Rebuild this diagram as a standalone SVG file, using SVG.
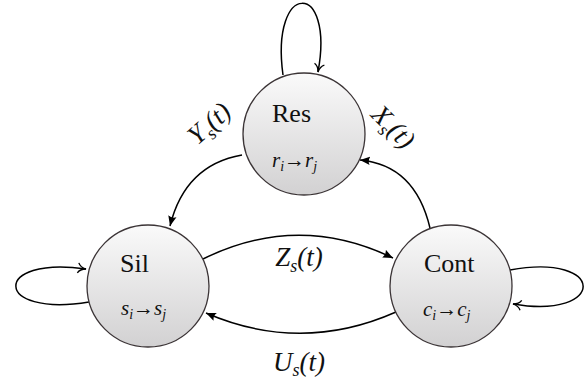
<svg xmlns="http://www.w3.org/2000/svg" width="584" height="383" viewBox="0 0 584 383" font-family="Liberation Serif, DejaVu Serif, serif">
<style>
.node{stroke:#3b3436;stroke-width:1.3;fill:url(#g)}
text{fill:#111}
.name{font-size:26px}
.math{font-style:italic;font-size:21px}
.lab{font-style:italic;font-size:27px}
.e{fill:none;stroke:#000;stroke-width:1.5}
.f{marker-end:url(#fa)}
.o{marker-end:url(#oa)}
</style>
<defs>
<linearGradient id="g" x1="0" y1="0" x2="0" y2="1">
<stop offset="0" stop-color="#fafafa"/>
<stop offset="1" stop-color="#d2d1d2"/>
</linearGradient>
<marker id="fa" markerWidth="12" markerHeight="10" refX="10" refY="5" orient="auto" markerUnits="userSpaceOnUse">
<path d="M0,0.8 L10,5 L0,9.2 Q2.5,5 0,0.8 Z" fill="#000"/>
</marker>
<marker id="oa" markerWidth="12" markerHeight="12" refX="9" refY="6" orient="auto" markerUnits="userSpaceOnUse">
<path d="M1,1 Q3,5 9,6 Q3,7 1,11" fill="none" stroke="#000" stroke-width="1.3"/>
</marker>
</defs>
<g id="connectors">
<path class="e o" d="M283,75 C270,-20 335,-20 318,72"/>
<path class="e o" d="M89,302 C-8,318 -8,255 86,269"/>
<path class="e o" d="M510,270 C607,252 607,320 513,304"/>
<path class="e f" d="M242,155 Q185,165 170,226"/>
<path class="e f" d="M430,228 Q415,165 360,160"/>
<path class="e f" d="M203,259 Q298,212 393,258"/>
<path class="e f" d="M396,312 Q301,354 206,313"/>
</g>
<g id="labels">
<text class="lab" transform="translate(215,130) rotate(-42)" text-anchor="middle">Y<tspan font-size="18" dy="6">s</tspan><tspan dy="-6">(t)</tspan></text>
<text class="lab" transform="translate(387,133) rotate(45)" text-anchor="middle">X<tspan font-size="18" dy="6">s</tspan><tspan dy="-6">(t)</tspan></text>
<text class="lab" x="299" y="266" text-anchor="middle">Z<tspan font-size="18" dy="6">s</tspan><tspan dy="-6">(t)</tspan></text>
<text class="lab" x="299" y="371" text-anchor="middle">U<tspan font-size="18" dy="5">s</tspan><tspan dy="-5">(t)</tspan></text>
</g>
<g id="res">
<circle class="node" cx="304" cy="134" r="61"/>
<text class="name" x="272" y="122">Res</text>
<text class="math" x="272" y="167">r<tspan font-size="14" dy="4">i</tspan><tspan dy="-4" font-style="normal">→</tspan>r<tspan font-size="14" dy="4">j</tspan></text>
</g>
<g id="sil">
<circle class="node" cx="148" cy="286" r="61"/>
<text class="name" x="120" y="272">Sil</text>
<text class="math" x="121" y="315">s<tspan font-size="14" dy="4">i</tspan><tspan dy="-4" font-style="normal">→</tspan>s<tspan font-size="14" dy="4">j</tspan></text>
</g>
<g id="cont">
<circle class="node" cx="451" cy="286" r="61"/>
<text class="name" x="424" y="272">Cont</text>
<text class="math" x="423" y="316">c<tspan font-size="14" dy="4">i</tspan><tspan dy="-4" font-style="normal">→</tspan>c<tspan font-size="14" dy="4">j</tspan></text>
</g>
</svg>
